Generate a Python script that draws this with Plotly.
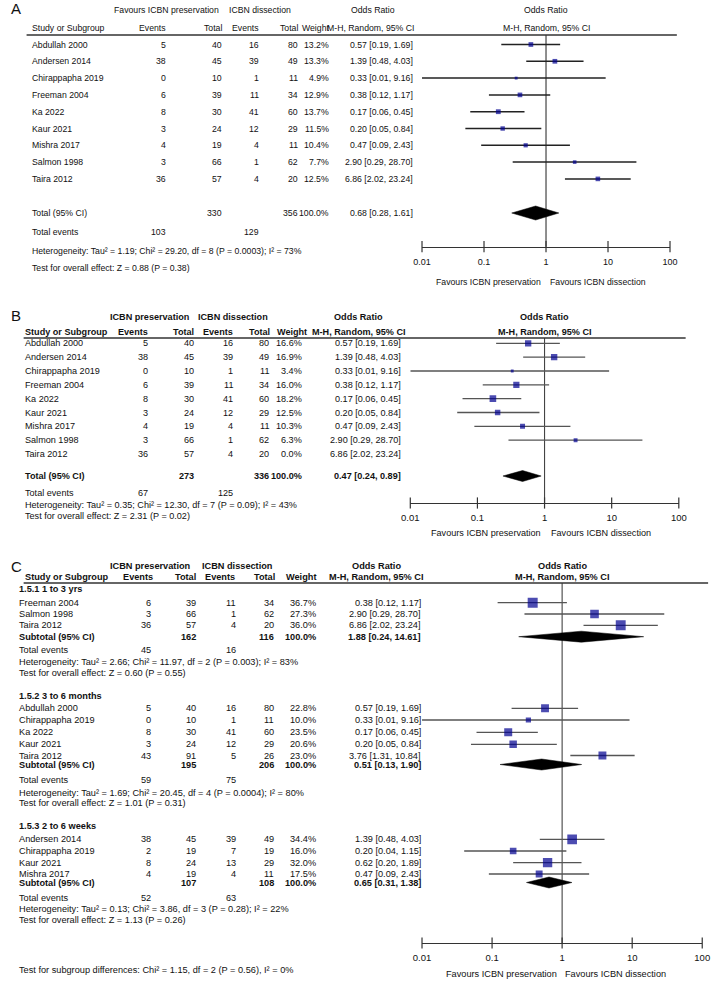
import math
import plotly.graph_objects as go

W, H = 720, 981

# ------------------------------------------------------------------ data
# Panel A (all studies)
studies_A = ["Abdullah 2000", "Andersen 2014", "Chirappapha 2019", "Freeman 2004", "Ka 2022",
             "Kaur 2021", "Mishra 2017", "Salmon 1998", "Taira 2012"]
ev_pres_A = [5, 38, 0, 6, 8, 3, 4, 3, 36]
tot_pres_A = [40, 45, 10, 39, 30, 24, 19, 66, 57]
ev_dis_A = [16, 39, 1, 11, 41, 12, 4, 1, 4]
tot_dis_A = [80, 49, 11, 34, 60, 29, 11, 62, 20]
weight_A = [13.2, 13.3, 4.9, 12.9, 13.7, 11.5, 10.4, 7.7, 12.5]
or_A = [0.57, 1.39, 0.33, 0.38, 0.17, 0.20, 0.47, 2.90, 6.86]
lo_A = [0.19, 0.48, 0.01, 0.12, 0.06, 0.05, 0.09, 0.29, 2.02]
hi_A = [1.69, 4.03, 9.16, 1.17, 0.45, 0.84, 2.43, 28.70, 23.24]
total_A = {"tot_pres": 330, "tot_dis": 356, "or": 0.68, "lo": 0.28, "hi": 1.61,
           "ev_pres": 103, "ev_dis": 129}
het_A = "Heterogeneity: Tau² = 1.19; Chi² = 29.20, df = 8 (P = 0.0003); I² = 73%"
test_A = "Test for overall effect: Z = 0.88 (P = 0.38)"

# Panel B (sensitivity, Taira excluded)
studies_B = studies_A
ev_pres_B = ev_pres_A
tot_pres_B = tot_pres_A
ev_dis_B = ev_dis_A
tot_dis_B = tot_dis_A
weight_B = [16.6, 16.9, 3.4, 16.0, 18.2, 12.5, 10.3, 6.3, 0.0]
or_B = or_A
lo_B = lo_A
hi_B = hi_A
total_B = {"tot_pres": 273, "tot_dis": 336, "or": 0.47, "lo": 0.24, "hi": 0.89,
           "ev_pres": 67, "ev_dis": 125}
het_B = "Heterogeneity: Tau² = 0.35; Chi² = 12.30, df = 7 (P = 0.09); I² = 43%"
test_B = "Test for overall effect: Z = 2.31 (P = 0.02)"

# Panel C (subgroups)
g1_title = "1.5.1 1 to 3 yrs"
g1_studies = ["Freeman 2004", "Salmon 1998", "Taira 2012"]
g1_ev_pres = [6, 3, 36]
g1_tot_pres = [39, 66, 57]
g1_ev_dis = [11, 1, 4]
g1_tot_dis = [34, 62, 20]
g1_weight = [36.7, 27.3, 36.0]
g1_or = [0.38, 2.90, 6.86]
g1_lo = [0.12, 0.29, 2.02]
g1_hi = [1.17, 28.70, 23.24]
g1_total = {"tot_pres": 162, "tot_dis": 116, "or": 1.88, "lo": 0.24, "hi": 14.61,
            "ev_pres": 45, "ev_dis": 16}
g1_het = "Heterogeneity: Tau² = 2.66; Chi² = 11.97, df = 2 (P = 0.003); I² = 83%"
g1_test = "Test for overall effect: Z = 0.60 (P = 0.55)"

g2_title = "1.5.2 3 to 6 months"
g2_studies = ["Abdullah 2000", "Chirappapha 2019", "Ka 2022", "Kaur 2021", "Taira 2012"]
g2_ev_pres = [5, 0, 8, 3, 43]
g2_tot_pres = [40, 10, 30, 24, 91]
g2_ev_dis = [16, 1, 41, 12, 5]
g2_tot_dis = [80, 11, 60, 29, 26]
g2_weight = [22.8, 10.0, 23.5, 20.6, 23.0]
g2_or = [0.57, 0.33, 0.17, 0.20, 3.76]
g2_lo = [0.19, 0.01, 0.06, 0.05, 1.31]
g2_hi = [1.69, 9.16, 0.45, 0.84, 10.84]
g2_total = {"tot_pres": 195, "tot_dis": 206, "or": 0.51, "lo": 0.13, "hi": 1.90,
            "ev_pres": 59, "ev_dis": 75}
g2_het = "Heterogeneity: Tau² = 1.69; Chi² = 20.45, df = 4 (P = 0.0004); I² = 80%"
g2_test = "Test for overall effect: Z = 1.01 (P = 0.31)"

g3_title = "1.5.3 2 to 6 weeks"
g3_studies = ["Andersen 2014", "Chirappapha 2019", "Kaur 2021", "Mishra 2017"]
g3_ev_pres = [38, 2, 8, 4]
g3_tot_pres = [45, 19, 24, 19]
g3_ev_dis = [39, 7, 13, 4]
g3_tot_dis = [49, 19, 29, 11]
g3_weight = [34.4, 16.0, 32.0, 17.5]
g3_or = [1.39, 0.20, 0.62, 0.47]
g3_lo = [0.48, 0.04, 0.20, 0.09]
g3_hi = [4.03, 1.15, 1.89, 2.43]
g3_total = {"tot_pres": 107, "tot_dis": 108, "or": 0.65, "lo": 0.31, "hi": 1.38,
            "ev_pres": 52, "ev_dis": 63}
g3_het = "Heterogeneity: Tau² = 0.13; Chi² = 3.86, df = 3 (P = 0.28); I² = 22%"
g3_test = "Test for overall effect: Z = 1.13 (P = 0.26)"
subgroup_test = "Test for subgroup differences: Chi² = 1.15, df = 2 (P = 0.56), I² = 0%"

tick_vals = [0.01, 0.1, 1, 10, 100]
tick_text = ["0.01", "0.1", "1", "10", "100"]
fav_left = "Favours ICBN preservation"
fav_right = "Favours ICBN dissection"

# ------------------------------------------------------------------ styles
SANS = "Liberation Sans, Arial, sans-serif"
SQ_COLOR = "#000090"
TXT = "#111111"

fig = go.Figure()
annotations = []
shapes = []


def ann(x, y, s, anchor="left", size=10, family=SANS, bold=False, color=TXT,
        xref="paper", xshift=0):
    annotations.append(dict(
        x=x / W if xref == "paper" else x, y=y, xref=xref, yref="y",
        text=f"<b>{s}</b>" if bold else s, showarrow=False,
        xanchor=anchor, yanchor="middle", xshift=xshift, borderpad=0,
        font=dict(size=size, family=family, color=color)))


def fmt_or(o, l, h):
    return f"{o:.2f} [{l:.2f}, {h:.2f}]"


def table_row(p, y, name, ep, tp, ed, td, w, o, l, h, bold=False):
    f = dict(size=p["fs"], family=SANS, bold=bold, color=TXT)
    ann(p["name_x"], y, name, "left", **f)
    if ep is not None:
        ann(p["ev1"], y, str(ep), "right", **f)
    ann(p["tot1"], y, str(tp), "right", **f)
    if ed is not None:
        ann(p["ev2"], y, str(ed), "right", **f)
    ann(p["tot2"], y, str(td), "right", **f)
    ann(p["w"], y, f"{w:.1f}%", "right", **f)
    ann(p["or"], y, fmt_or(o, l, h), "right", **f)


def forest(xa, ys, ors, los, his, weights, k, lcol, lw):
    xs, yy = [], []
    for o, l, h, w, y in zip(ors, los, his, weights, ys):
        if w <= 0:
            continue
        xs += [l, h, None]
        yy += [y, y, None]
    fig.add_trace(go.Scatter(x=xs, y=yy, xaxis=xa, yaxis="y", mode="lines",
                             line=dict(color=lcol, width=lw), hoverinfo="skip",
                             showlegend=False))
    sel = [i for i, w in enumerate(weights) if w > 0]
    fig.add_trace(go.Scatter(x=[ors[i] for i in sel], y=[ys[i] for i in sel],
                             xaxis=xa, yaxis="y", mode="markers",
                             marker=dict(symbol="square", color=SQ_COLOR,
                                         size=[k * math.sqrt(weights[i]) for i in sel],
                                         line=dict(width=0)),
                             hoverinfo="skip", showlegend=False))


def diamond(xa, y, tot, h):
    fig.add_trace(go.Scatter(x=[tot["lo"], tot["or"], tot["hi"], tot["or"], tot["lo"]],
                             y=[y, y - h, y, y + h, y], xaxis=xa, yaxis="y",
                             mode="lines", fill="toself", fillcolor="black",
                             line=dict(color="black", width=0.5),
                             hoverinfo="skip", showlegend=False))


def axis_decor(xa, top, bottom, vcol):
    fig.add_trace(go.Scatter(x=[1, 1], y=[top, bottom], xaxis=xa, yaxis="y", mode="lines",
                             line=dict(color=vcol, width=1.1), hoverinfo="skip",
                             showlegend=False))
    fig.add_trace(go.Scatter(x=tick_vals, y=[bottom] * len(tick_vals), xaxis=xa, yaxis="y",
                             mode="markers", cliponaxis=False,
                             marker=dict(symbol="line-ns", size=8,
                                         line=dict(color="#333", width=1.2)),
                             hoverinfo="skip", showlegend=False))


def xaxis_cfg(px0, px1, axis_px, fs, standoff):
    return dict(type="log", range=[-2, 2], domain=[px0 / W, px1 / W], anchor="free",
                position=1 - axis_px / H, showgrid=False, zeroline=False,
                showline=True, linecolor="#333", linewidth=1.4, ticks="",
                tickvals=tick_vals, ticktext=tick_text, ticklabelstandoff=standoff,
                tickfont=dict(size=fs, family=SANS, color=TXT), fixedrange=True)


# ------------------------------------------------------------------ panel A
FA = 8.7
pA = dict(name_x=23, ev1=162, tot1=219, ev2=257, tot2=297, w=329, fs=FA)
pA["or"] = 415
A_top, A_axis = 35, 246.7
ann(1, 8, "A", "left", size=15)
hA = dict(size=FA)
ann(161, 10, "Favours ICBN preservation", "center", **hA)
ann(257, 10, "ICBN dissection", "center", **hA)
ann(373, 10, "Odds Ratio", "center", **hA)
ann(23, 28, "Study or Subgroup", "left", **hA)
ann(162, 28, "Events", "right", **hA)
ann(219, 28, "Total", "right", **hA)
ann(257, 28, "Events", "right", **hA)
ann(297, 28, "Total", "right", **hA)
ann(329, 28, "Weight", "right", **hA)
ann(416, 28, "M-H, Random, 95% CI", "right", **hA)
ann(0, 10, "Odds Ratio", "center", xref="x", **hA)
ann(0, 28, "M-H, Random, 95% CI", "center", xref="x", **hA)
shapes.append(dict(type="line", xref="paper", yref="y", x0=18 / W, x1=684 / W,
                   y0=A_top, y1=A_top, line=dict(color="#333", width=1.3)))

rows_A = [44.5 + 16.8 * i for i in range(len(studies_A))]
for i, s in enumerate(studies_A):
    table_row(pA, rows_A[i], s, ev_pres_A[i], tot_pres_A[i], ev_dis_A[i], tot_dis_A[i],
              weight_A[i], or_A[i], lo_A[i], hi_A[i])
yA_tot = 213
table_row(pA, yA_tot, "Total (95% CI)", None, total_A["tot_pres"], None, total_A["tot_dis"],
          100.0, total_A["or"], total_A["lo"], total_A["hi"])
ann(23, 232, "Total events", "left", **hA)
ann(pA["ev1"], 232, str(total_A["ev_pres"]), "right", **hA)
ann(pA["ev2"], 232, str(total_A["ev_dis"]), "right", **hA)
ann(23, 250.5, het_A, "left", **hA)
ann(23, 268, test_A, "left", **hA)

axis_decor("x", A_top, A_axis, "#333")
forest("x", rows_A, or_A, lo_A, hi_A, weight_A, 1.3, "#222", 1.5)
diamond("x", yA_tot, total_A, 7)
ann(0, 282, fav_left, "right", xref="x", xshift=-4, **hA)
ann(0, 282, fav_right, "left", xref="x", xshift=3, **hA)

# ------------------------------------------------------------------ panel B
FB = 9.1
pB = dict(name_x=15, ev1=143, tot1=190, ev2=230, tot2=267, w=301, fs=FB)
pB["or"] = 402
B_top, B_axis = 338, 503
hB = dict(size=FB)
ann(1, 315, "B", "left", size=15)
ann(144, 317, "ICBN preservation", "center", bold=True, **hB)
ann(229, 317, "ICBN dissection", "center", bold=True, **hB)
ann(358, 317, "Odds Ratio", "center", bold=True, **hB)
ann(15, 332, "Study or Subgroup", "left", bold=True, **hB)
ann(143, 332, "Events", "right", bold=True, **hB)
ann(190, 332, "Total", "right", bold=True, **hB)
ann(230, 332, "Events", "right", bold=True, **hB)
ann(268, 332, "Total", "right", bold=True, **hB)
ann(306, 332, "Weight", "right", bold=True, **hB)
ann(358, 332, "M-H, Random, 95% CI", "center", bold=True, **hB)
ann(0, 317, "Odds Ratio", "center", xref="x2", bold=True, **hB)
ann(0, 332, "M-H, Random, 95% CI", "center", xref="x2", bold=True, **hB)
shapes.append(dict(type="line", xref="paper", yref="y", x0=15 / W, x1=693 / W,
                   y0=B_top, y1=B_top, line=dict(color="#333", width=1.3)))

rows_B = [343.3 + 13.84 * i for i in range(len(studies_B))]
for i, s in enumerate(studies_B):
    table_row(pB, rows_B[i], s, ev_pres_B[i], tot_pres_B[i], ev_dis_B[i], tot_dis_B[i],
              weight_B[i], or_B[i], lo_B[i], hi_B[i])
yB_tot = 476
table_row(pB, yB_tot, "Total (95% CI)", None, total_B["tot_pres"], None, total_B["tot_dis"],
          100.0, total_B["or"], total_B["lo"], total_B["hi"], bold=True)
ann(15, 493, "Total events", "left", **hB)
ann(pB["ev1"], 493, str(total_B["ev_pres"]), "right", **hB)
ann(pB["ev2"], 493, str(total_B["ev_dis"]), "right", **hB)
ann(15, 504.5, het_B, "left", **hB)
ann(15, 516, test_B, "left", **hB)

axis_decor("x2", B_top, B_axis, "#444")
forest("x2", rows_B, or_B, lo_B, hi_B, weight_B, 1.55, "#555", 1.3)
diamond("x2", yB_tot, total_B, 5.5)
ann(0, 533, fav_left, "right", xref="x2", xshift=-3, **hB)
ann(0, 533, fav_right, "left", xref="x2", xshift=5, **hB)

# ------------------------------------------------------------------ panel C
FC = 9.2
pC = dict(name_x=9, ev1=146, tot1=193, ev2=234, tot2=272, w=315, fs=FC)
pC["or"] = 423
C_top, C_axis = 583, 943
hC = dict(size=FC)
ann(1, 566, "C", "left", size=15)
ann(145, 566, "ICBN preservation", "center", bold=True, **hC)
ann(234, 566, "ICBN dissection", "center", bold=True, **hC)
ann(376, 566, "Odds Ratio", "center", bold=True, **hC)
ann(15, 577, "Study or Subgroup", "left", bold=True, **hC)
ann(148, 577, "Events", "right", bold=True, **hC)
ann(193, 577, "Total", "right", bold=True, **hC)
ann(233, 577, "Events", "right", bold=True, **hC)
ann(273, 577, "Total", "right", bold=True, **hC)
ann(315, 577, "Weight", "right", bold=True, **hC)
ann(376, 577, "M-H, Random, 95% CI", "center", bold=True, **hC)
ann(0, 566, "Odds Ratio", "center", xref="x3", bold=True, **hC)
ann(0, 577, "M-H, Random, 95% CI", "center", xref="x3", bold=True, **hC)
shapes.append(dict(type="line", xref="paper", yref="y", x0=15 / W, x1=716 / W,
                   y0=C_top, y1=C_top, line=dict(color="#333", width=1.3)))

groups = [
    (g1_title, g1_studies, g1_ev_pres, g1_tot_pres, g1_ev_dis, g1_tot_dis, g1_weight,
     g1_or, g1_lo, g1_hi, g1_total, g1_het, g1_test),
    (g2_title, g2_studies, g2_ev_pres, g2_tot_pres, g2_ev_dis, g2_tot_dis, g2_weight,
     g2_or, g2_lo, g2_hi, g2_total, g2_het, g2_test),
    (g3_title, g3_studies, g3_ev_pres, g3_tot_pres, g3_ev_dis, g3_tot_dis, g3_weight,
     g3_or, g3_lo, g3_hi, g3_total, g3_het, g3_test),
]
# row layout (pixel rows): title, study rows, subtotal, events, heterogeneity, test
layout_C = [
    (589, [602.7, 614, 625.3], 636.7, 650, 661.7, 673.3),
    (696, [708.3, 720, 732.3, 744.3, 755.5], 764.5, 780, 792.7, 803.3),
    (826, [839.3, 851, 862.7, 874], 882.5, 897.7, 909.3, 920),
]
for g, lay in zip(groups, layout_C):
    title, st, ep, tp, ed, td, w, o, l, h, tot, het, test = g
    y_title, ys, y_sub, y_ev, y_het, y_test = lay
    ann(9, y_title, title, "left", bold=True, **hC)
    for i, s in enumerate(st):
        table_row(pC, ys[i], s, ep[i], tp[i], ed[i], td[i], w[i], o[i], l[i], h[i])
    table_row(pC, y_sub, "Subtotal (95% CI)", None, tot["tot_pres"], None, tot["tot_dis"],
              100.0, tot["or"], tot["lo"], tot["hi"], bold=True)
    ann(9, y_ev, "Total events", "left", **hC)
    ann(pC["ev1"], y_ev, str(tot["ev_pres"]), "right", **hC)
    ann(pC["ev2"], y_ev, str(tot["ev_dis"]), "right", **hC)
    ann(9, y_het, het, "left", **hC)
    ann(9, y_test, test, "left", **hC)

ann(9, 970, subgroup_test, "left", **hC)

axis_decor("x3", C_top, C_axis, "#444")
for g, lay in zip(groups, layout_C):
    title, st, ep, tp, ed, td, w, o, l, h, tot, het, test = g
    forest("x3", lay[1], o, l, h, w, 1.65, "#555", 1.3)
    diamond("x3", lay[2], tot, 5.5)
ann(0, 974, fav_left, "right", xref="x3", xshift=-4, **hC)
ann(0, 974, fav_right, "left", xref="x3", xshift=2, **hC)

# ------------------------------------------------------------------ layout
fig.update_layout(
    width=W, height=H, margin=dict(l=0, r=0, t=0, b=0, pad=0),
    paper_bgcolor="white", plot_bgcolor="rgba(0,0,0,0)", showlegend=False,
    xaxis=xaxis_cfg(423, 677, A_axis, 9, 6),
    xaxis2=xaxis_cfg(411, 686, B_axis, 9.5, 5),
    xaxis3=xaxis_cfg(423, 710, C_axis, 9.5, 5),
    yaxis=dict(domain=[0, 1], range=[H, 0], visible=False, fixedrange=True),
    annotations=annotations, shapes=shapes,
)

fig.write_html(
    "out.html",
    config={"displayModeBar": False},
    post_script="document.body.style.margin='0px';document.body.style.overflow='hidden';",
)
